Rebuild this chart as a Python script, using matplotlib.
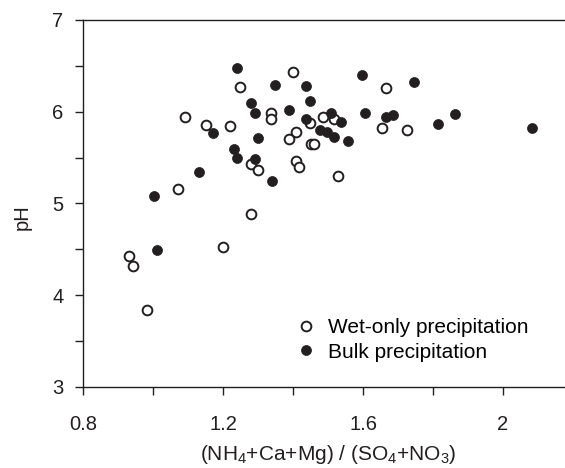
import matplotlib
matplotlib.use('Agg')
import matplotlib.pyplot as plt

plt.rcParams['font.family'] = ['Liberation Sans', 'DejaVu Sans']
plt.rcParams['mathtext.fontset'] = 'custom'
plt.rcParams['mathtext.rm'] = 'Liberation Sans'

# wet-only precipitation (open circles)
wet_ratio = [0.932, 0.942, 0.983, 1.071, 1.199, 1.091, 1.151, 1.220, 1.249, 1.399,
             1.338, 1.338, 1.279, 1.299, 1.409, 1.389, 1.451, 1.459, 1.409, 1.417,
             1.449, 1.487, 1.517, 1.528, 1.666, 1.655, 1.725, 1.279]
wet_ph = [4.43, 4.32, 3.84, 5.16, 4.53, 5.94, 5.86, 5.84, 6.27, 6.43,
          5.99, 5.92, 5.43, 5.36, 5.78, 5.70, 5.65, 5.65, 5.46, 5.40,
          5.88, 5.94, 5.92, 5.30, 6.26, 5.82, 5.80, 4.89]

# bulk precipitation (filled circles)
bulk_ratio = [1.012, 1.003, 1.131, 1.230, 1.239, 1.291, 1.171, 1.299, 1.241, 1.349,
              1.438, 1.279, 1.448, 1.291, 1.389, 1.437, 1.340, 1.508, 1.537, 1.477,
              1.498, 1.517, 1.557, 1.596, 1.606, 1.666, 1.686, 1.745, 1.814, 1.864,
              2.082]
bulk_ph = [4.49, 5.08, 5.34, 5.59, 5.50, 5.49, 5.77, 5.71, 6.48, 6.29,
           6.28, 6.10, 6.12, 5.99, 6.02, 5.92, 5.25, 5.99, 5.89, 5.80,
           5.78, 5.73, 5.68, 6.40, 5.99, 5.94, 5.96, 6.32, 5.87, 5.97,
           5.82]

xticks = [0.8, 1.0, 1.2, 1.4, 1.6, 1.8, 2.0, 2.2]
xticklabels = ['0.8', '', '1.2', '', '1.6', '', '2', '']
yticks = [3, 3.5, 4, 4.5, 5, 5.5, 6, 6.5, 7]
yticklabels = ['3', '', '4', '', '5', '', '6', '', '7']

ink = '#231f20'
fig = plt.figure(figsize=(5.65, 4.68), dpi=100)
ax = fig.add_axes([0.1469, 0.1731, 0.8673, 0.7842])

ax.plot(wet_ratio, wet_ph, 'o', ms=7, mfc='white', mec=ink, mew=1.4,
        label='Wet-only precipitation', clip_on=False)
ax.plot(bulk_ratio, bulk_ph, 'o', ms=7.2, mfc=ink, mec=ink, mew=0.5,
        label='Bulk precipitation', clip_on=False)

ax.set_xlim(0.8, 2.2)
ax.set_ylim(3, 7)
ax.set_xticks(xticks)
ax.set_xticklabels(xticklabels)
ax.set_yticks(yticks)
ax.set_yticklabels(yticklabels)
ax.tick_params(direction='out', length=6, width=1, colors=ink, labelsize=14.5)
ax.tick_params(axis='x', pad=14)
ax.tick_params(axis='y', pad=8)
for s in ax.spines.values():
    s.set_color(ink)
    s.set_linewidth(1)
ax.spines['right'].set_visible(False)

ax.set_xlabel(r'(NH$\mathregular{_4}$+Ca+Mg) / (SO$\mathregular{_4}$+NO$\mathregular{_3}$)',
              fontsize=15, color=ink, labelpad=7)
ax.set_ylabel('pH', fontsize=14.5, color=ink)
ax.yaxis.set_label_coords(-0.105, 0.463)

ax.legend(loc='upper left', bbox_to_anchor=(0.423, 0.187), frameon=False,
          fontsize=15, handletextpad=0.31, labelspacing=0.25, borderpad=0,
          handlelength=1.5, borderaxespad=0)

fig.savefig('out.png', dpi=100)
